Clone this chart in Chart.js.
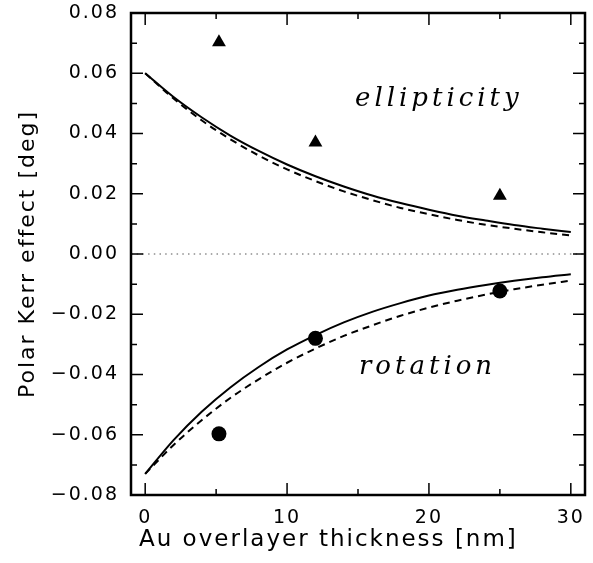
<!DOCTYPE html>
<html>
<head>
<meta charset="utf-8">
<script src="https://cdn.jsdelivr.net/npm/chart.js@4/dist/chart.umd.min.js"></script>
<style>
  html, body { margin: 0; padding: 0; background: #fff; }
  #wrap { width: 593px; height: 563px; }
</style>
</head>
<body>
<div id="wrap"><canvas id="kerrChart"></canvas></div>
<script>
// Au overlayer thickness (nm) for the model curves
const thickness = [0, 2, 4, 6, 8, 10, 12, 14, 16, 18, 20, 22, 24, 26, 28, 30];
// model curves, deg
const ellipSolid  = [0.0600, 0.0521, 0.0453, 0.0393, 0.0342, 0.0297, 0.0258, 0.0224, 0.0194, 0.0169, 0.0147, 0.0127, 0.0111, 0.0096, 0.0084, 0.0073];
const ellipDashed = [0.0600, 0.0516, 0.0443, 0.0381, 0.0327, 0.0281, 0.0242, 0.0208, 0.0179, 0.0153, 0.0132, 0.0113, 0.0097, 0.0084, 0.0072, 0.0062];
const rotSolid    = [-0.0730, -0.0618, -0.0523, -0.0443, -0.0375, -0.0317, -0.0269, -0.0227, -0.0192, -0.0163, -0.0138, -0.0119, -0.0103, -0.0089, -0.0077, -0.0067];
const rotDashed   = [-0.0730, -0.0634, -0.0551, -0.0478, -0.0416, -0.0361, -0.0314, -0.0272, -0.0237, -0.0205, -0.0178, -0.0155, -0.0135, -0.0117, -0.0102, -0.0088];

// measured samples
const sampleThickness = [5.2, 12, 25];
const ellipMeasured = [0.0703, 0.0370, 0.0193];
const rotMeasured = [-0.0597, -0.0280, -0.0123];

// axis ticks
const xTicks = [0, 5, 10, 15, 20, 25, 30];
const xLabeled = [0, 10, 20, 30];
const yTicks = [-0.08, -0.07, -0.06, -0.05, -0.04, -0.03, -0.02, -0.01, 0, 0.01, 0.02, 0.03, 0.04, 0.05, 0.06, 0.07, 0.08];
const yLabeled = [-0.08, -0.06, -0.04, -0.02, 0, 0.02, 0.04, 0.06, 0.08];

const xTitle = 'Au overlayer thickness [nm]';
const yTitle = 'Polar Kerr effect [deg]';

// curve labels: [text, x, y]
const curveLabels = [
    ['ellipticity', 20.7, 0.0515],
    ['rotation', 19.9, -0.0375]
];

function pts(xs, ys) {
    return xs.map((x, i) => ({ x: x, y: ys[i] }));
}

function isLabeled(list, v) {
    return list.some(t => Math.abs(t - v) < 1e-9);
}

function fmtY(v) {
    if (Math.abs(v) < 1e-9) return '0.00';
    return (v < 0 ? '\u2212' : '') + Math.abs(v).toFixed(2);
}

function curve(data, dashed) {
    return {
        data: data,
        showLine: true,
        borderColor: '#000',
        borderWidth: 2,
        borderDash: dashed ? [7, 5] : [],
        pointRadius: 0,
        cubicInterpolationMode: 'monotone',
        fill: false
    };
}

// wide letter spacing for all canvas text
const spacingPlugin = {
    id: 'spacing',
    beforeUpdate(chart) { chart.ctx.letterSpacing = '2px'; },
    beforeDraw(chart) { chart.ctx.letterSpacing = '2px'; }
};

// frame, inward ticks on all sides, dotted zero line, text
const framePlugin = {
    id: 'frame',
    beforeDatasetsDraw(chart) {
        const { ctx, chartArea: a, scales: { y } } = chart;
        ctx.save();
        ctx.strokeStyle = '#555';
        ctx.lineWidth = 1;
        ctx.setLineDash([1.5, 4.2]);
        const y0 = y.getPixelForValue(0);
        ctx.beginPath();
        ctx.moveTo(a.left, y0);
        ctx.lineTo(a.right, y0);
        ctx.stroke();
        ctx.restore();
    },
    afterDraw(chart) {
        const { ctx, chartArea: a, scales: { x, y } } = chart;
        ctx.save();
        ctx.strokeStyle = '#000';
        ctx.lineWidth = 1.5;
        ctx.beginPath();
        xTicks.forEach(v => {
            const px = x.getPixelForValue(v);
            const len = isLabeled(xLabeled, v) ? 12 : 6;
            ctx.moveTo(px, a.bottom); ctx.lineTo(px, a.bottom - len);
            ctx.moveTo(px, a.top); ctx.lineTo(px, a.top + len);
        });
        yTicks.forEach(v => {
            const py = y.getPixelForValue(v);
            const len = isLabeled(yLabeled, v) ? 12 : 6;
            ctx.moveTo(a.left, py); ctx.lineTo(a.left + len, py);
            ctx.moveTo(a.right, py); ctx.lineTo(a.right - len, py);
        });
        ctx.stroke();

        ctx.lineWidth = 2.5;
        ctx.strokeRect(a.left, a.top, a.right - a.left, a.bottom - a.top);

        ctx.fillStyle = '#000';

        // x axis title sits a little left of the plot centre
        ctx.font = '23px "DejaVu Sans"';
        ctx.letterSpacing = '2px';
        ctx.textAlign = 'left';
        ctx.textBaseline = 'alphabetic';
        ctx.fillText(xTitle, a.left + 8, 546);

        ctx.font = 'italic 26px "DejaVu Serif"';
        ctx.letterSpacing = '4px';
        ctx.textAlign = 'center';
        ctx.textBaseline = 'middle';
        curveLabels.forEach(([text, lx, ly]) => {
            ctx.fillText(text, x.getPixelForValue(lx), y.getPixelForValue(ly));
        });
        ctx.restore();
    }
};

Chart.defaults.color = '#000';
Chart.defaults.font.family = '"DejaVu Sans", sans-serif';

new Chart(document.getElementById('kerrChart'), {
    type: 'scatter',
    data: {
        datasets: [
            curve(pts(thickness, ellipSolid), false),
            curve(pts(thickness, ellipDashed), true),
            curve(pts(thickness, rotSolid), false),
            curve(pts(thickness, rotDashed), true),
            {
                data: pts(sampleThickness, ellipMeasured),
                pointStyle: 'triangle',
                pointRadius: 8,
                backgroundColor: '#000',
                borderColor: '#000',
                borderWidth: 0
            },
            {
                data: pts(sampleThickness, rotMeasured),
                pointStyle: 'circle',
                pointRadius: 7.5,
                backgroundColor: '#000',
                borderColor: '#000',
                borderWidth: 0
            }
        ]
    },
    options: {
        responsive: true,
        maintainAspectRatio: false,
        animation: false,
        layout: { padding: { top: 13, right: 5, left: 0, bottom: 0 } },
        plugins: {
            legend: { display: false },
            tooltip: { enabled: false }
        },
        scales: {
            x: {
                type: 'linear',
                min: -1,
                max: 31,
                grid: { display: false, drawTicks: false },
                border: { display: false },
                afterBuildTicks: scale => { scale.ticks = xTicks.map(v => ({ value: v })); },
                afterFit: scale => {
                    scale.height = 68;
                    scale.paddingLeft = 0;
                    scale.paddingRight = 0;
                },
                ticks: {
                    autoSkip: false,
                    maxRotation: 0,
                    padding: 12,
                    font: { size: 19 },
                    callback: v => isLabeled(xLabeled, v) ? String(v) : ''
                }
            },
            y: {
                min: -0.08,
                max: 0.08,
                grid: { display: false, drawTicks: false },
                border: { display: false },
                afterBuildTicks: scale => { scale.ticks = yTicks.map(v => ({ value: v })); },
                afterFit: scale => {
                    scale.width = 131;
                    scale.paddingTop = 0;
                    scale.paddingBottom = 0;
                },
                ticks: {
                    autoSkip: false,
                    padding: 12,
                    font: { size: 19 },
                    callback: v => isLabeled(yLabeled, v) ? fmtY(v) : ''
                },
                title: {
                    display: true,
                    text: yTitle,
                    font: { size: 22 },
                    padding: { top: 15, bottom: 0 }
                }
            }
        }
    },
    plugins: [spacingPlugin, framePlugin]
});
</script>
</body>
</html>
